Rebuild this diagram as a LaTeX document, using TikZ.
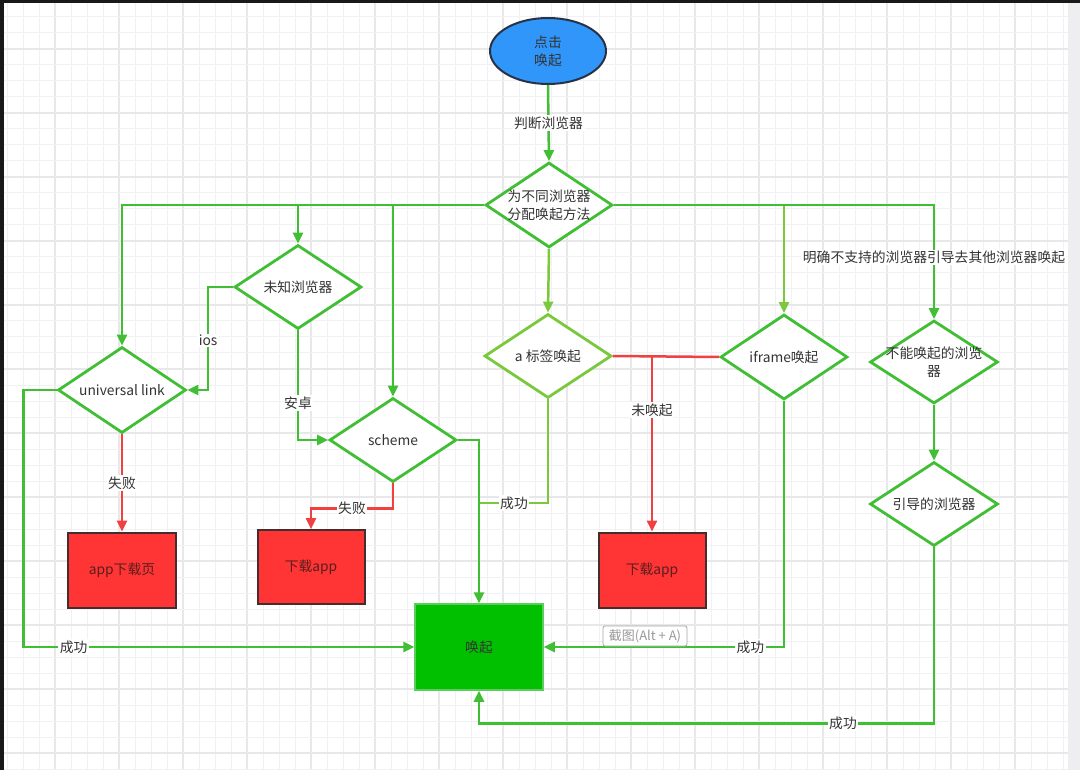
\documentclass[tikz,border=0pt]{standalone}
\usepackage{fontspec}
\setmainfont{Noto Sans CJK SC}
\usetikzlibrary{shapes.geometric,arrows.meta,calc}
\definecolor{lg}{RGB}{64,190,52}
\definecolor{lg2}{RGB}{122,200,60}
\definecolor{rl}{RGB}{240,64,64}
\definecolor{rf}{RGB}{255,52,52}
\definecolor{gf}{RGB}{0,192,0}
\definecolor{gbd}{RGB}{90,205,90}
\definecolor{bf}{RGB}{48,150,250}
\definecolor{bbd}{RGB}{40,50,70}
\definecolor{rbd}{RGB}{70,45,45}
\definecolor{rtx}{RGB}{90,30,30}
\definecolor{tx}{RGB}{51,51,51}
\definecolor{gmin}{RGB}{241,241,243}
\definecolor{gmaj}{RGB}{232,232,234}
\definecolor{strip}{RGB}{238,238,240}
\tikzset{
  txt/.style={text=tx,font=\fontsize{13.8}{18}\selectfont,align=center,inner sep=0pt},
  dia/.style={diamond,draw=lg,line width=2.8pt,fill=white,inner sep=0pt,
    minimum width=127pt,minimum height=85pt,label={[txt]center:{#1}}},
  redbox/.style={rectangle,draw=rbd,line width=2pt,fill=rf,
    minimum width=108pt,minimum height=75pt,txt,text=rtx},
  gline/.style={draw=lg,line width=2.5pt},
  gline2/.style={draw=lg2,line width=2.5pt},
  rline/.style={draw=rl,line width=2.5pt},
  tip/.style={-{Triangle[length=11pt,width=10pt]}},
  lab/.style={txt,fill=white,inner sep=1.5pt}
}
\begin{document}
\begin{tikzpicture}[x=1pt,y=-1pt]
\useasboundingbox (0,0) rectangle (1080,770);
\fill[white] (0,0) rectangle (1080,770);
% grid
\foreach \k in {0,...,66}{
  \pgfmathtruncatemacro{\m}{mod(\k+1,4)}
  \ifnum\m=0 \draw[gmaj,line width=1.2pt] (7+16*\k,0) -- (7+16*\k,770);
  \else \draw[gmin,line width=1pt] (7+16*\k,0) -- (7+16*\k,770); \fi
}
\foreach \k in {0,...,48}{
  \pgfmathtruncatemacro{\m}{mod(\k+1,4)}
  \ifnum\m=0 \draw[gmaj,line width=1.2pt] (0,1+16*\k) -- (1080,1+16*\k);
  \else \draw[gmin,line width=1pt] (0,1+16*\k) -- (1080,1+16*\k); \fi
}
\fill[strip] (1068,0) rectangle (1080,770);
\fill[black!90] (0,0) rectangle (1080,3);
\fill[black!90] (0,0) rectangle (4,770);

% nodes
\node[ellipse,draw=bbd,line width=2pt,fill=bf,
  minimum width=116pt,minimum height=66pt,inner sep=0pt,txt] (start) at (548,51) {点击\\唤起};
\node[dia={为不同浏览器\\分配唤起方法}] (d1) at (549,205) {};
\node[dia={未知浏览器},minimum height=84pt] (unk) at (298,287) {};
\node[dia={universal link},minimum width=128pt,minimum height=86pt] (ul) at (122,390) {};
\node[dia={scheme},minimum height=84pt] (sch) at (393,440) {};
\node[dia={a 标签唤起},draw=lg2,minimum height=84pt] (atag) at (548,356) {};
\node[dia={iframe唤起}] (ifr) at (784,357) {};
\node[dia={不能唤起的浏览\\器},minimum width=128pt,minimum height=83pt] (nc) at (934,362) {};
\node[dia={引导的浏览器},minimum width=128pt,minimum height=84pt] (g) at (934,504) {};
\node[redbox] (app1) at (122,570) {app下载页};
\node[redbox,minimum width=107pt,minimum height=74pt] (dl1) at (311,567) {下载app};
\node[redbox,minimum width=107pt] (dl2) at (652,570) {下载app};
\node[rectangle,draw=gbd,line width=1.5pt,fill=gf,
  minimum width=128pt,minimum height=86pt,txt] (wake) at (479,647) {唤起};
\coordinate (j1) at (480,503);

% connectors
\draw[gline,tip] (start.south) -- node[lab]{判断浏览器} (d1.north);
\draw[gline,tip] (d1.west) -| (ul.north);
\draw[gline,tip] (d1.west) -| (unk.north);
\draw[gline,tip] (d1.west) -| (sch.north);
\draw[gline2,tip] (d1.south) -- (atag.north);
\draw[gline] (d1.east) -- (d1.east -| ifr.north);
\draw[gline2,tip] (d1.east -| ifr.north) -- (ifr.north);
\draw[gline,tip] (d1.east) -| node[lab,pos=0.73]{明确不支持的浏览器引导去其他浏览器唤起} (nc.north);
\draw[gline,tip] (unk.west) -- ++(-25,0) |- node[lab,pos=0.26]{ios} (ul.east);
\draw[gline,tip] (unk.south) |- node[lab,pos=0.33]{安卓} (sch.west);
\draw[rline,tip] (ul.south) -- node[lab]{失败} (app1.north);
\draw[gline,tip] (ul.west) -- ++(-33,0) |- node[lab,pos=0.564]{成功} (wake.west);
\draw[rline,tip] (sch.south) -- ++(0,25) -| node[lab,pos=0.25]{失败} (dl1.north);
\draw[gline,tip] (sch.east) -| (wake.north);
\draw[gline2] (atag.south) |- node[lab,pos=0.75]{成功} (j1);
\draw[rline] (atag.east) -- (ifr.west);
\draw[rline,tip] (atag.east -| dl2.north) -- node[lab,pos=0.31]{未唤起} (dl2.north);
\draw[gline,tip] (ifr.south) |- node[lab,pos=0.57]{成功} (wake.east);
\draw[gline,tip] (nc.south) -- (g.north);
\draw[gline,tip] (g.south) -- ++(0,176) -| node[lab,pos=0.1]{成功} (wake.south);

% screenshot tooltip
\node[rectangle,rounded corners=2pt,draw=black!35,fill=white,line width=0.8pt,
  text=black!40,font=\fontsize{13}{15}\selectfont,inner xsep=3pt,inner ysep=2pt,
  minimum width=84pt,minimum height=20pt] (tip1) at (645,636) {截图(Alt + A)};
\end{tikzpicture}
\end{document}
